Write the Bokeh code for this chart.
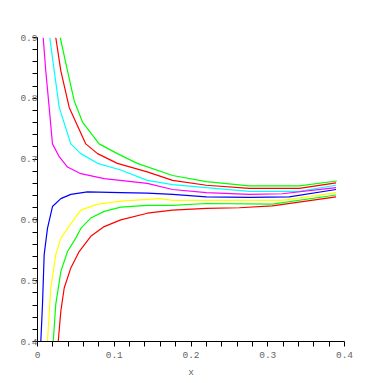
from bokeh.plotting import figure
from bokeh.models import FixedTicker, Range1d
from bokeh.embed import file_html
from bokeh.resources import INLINE

# ---- data ----
green_up_x = [0.0296, 0.0391, 0.0478, 0.0586, 0.0804, 0.104, 0.130, 0.176, 0.220, 0.276, 0.341, 0.390]
green_up_y = [0.900, 0.845, 0.796, 0.761, 0.725, 0.709, 0.693, 0.673, 0.663, 0.656, 0.656, 0.664]

red_up_x = [0.0238, 0.0304, 0.0413, 0.0629, 0.0782, 0.104, 0.143, 0.176, 0.220, 0.276, 0.341, 0.389]
red_up_y = [0.900, 0.845, 0.785, 0.725, 0.709, 0.693, 0.679, 0.665, 0.657, 0.652, 0.652, 0.661]

cyan_x = [0.0160, 0.0218, 0.0283, 0.0434, 0.0564, 0.0782, 0.1085, 0.143, 0.176, 0.220, 0.276, 0.341, 0.389]
cyan_y = [0.900, 0.845, 0.785, 0.725, 0.709, 0.693, 0.682, 0.665, 0.658, 0.653, 0.647, 0.647, 0.657]

magenta_x = [0.0074, 0.0108, 0.0152, 0.0195, 0.0283, 0.0391, 0.0564, 0.0869, 0.143, 0.176, 0.220, 0.276, 0.319, 0.389]
magenta_y = [0.900, 0.845, 0.785, 0.725, 0.704, 0.687, 0.676, 0.668, 0.660, 0.650, 0.645, 0.642, 0.643, 0.653]

blue_x = [0.0043, 0.0065, 0.0087, 0.0130, 0.0195, 0.0304, 0.0434, 0.0651, 0.1085, 0.143, 0.176, 0.220, 0.276, 0.328, 0.389]
blue_y = [0.400, 0.461, 0.543, 0.586, 0.622, 0.635, 0.642, 0.646, 0.645, 0.644, 0.642, 0.638, 0.637, 0.638, 0.650]

yellow_x = [0.0130, 0.0173, 0.0238, 0.0304, 0.0391, 0.0564, 0.0782, 0.1085, 0.159, 0.176, 0.276, 0.319, 0.389]
yellow_y = [0.400, 0.488, 0.543, 0.570, 0.586, 0.616, 0.626, 0.631, 0.635, 0.632, 0.632, 0.632, 0.645]

green_lo_x = [0.0205, 0.0238, 0.0304, 0.0391, 0.0499, 0.0564, 0.0694, 0.0869, 0.1085, 0.143, 0.176, 0.220, 0.306, 0.389]
green_lo_y = [0.400, 0.461, 0.515, 0.548, 0.570, 0.586, 0.603, 0.614, 0.621, 0.624, 0.624, 0.627, 0.626, 0.641]

red_lo_x = [0.0270, 0.0304, 0.0348, 0.0434, 0.0543, 0.0694, 0.0869, 0.1085, 0.143, 0.176, 0.220, 0.263, 0.306, 0.389]
red_lo_y = [0.400, 0.450, 0.488, 0.521, 0.548, 0.573, 0.589, 0.600, 0.611, 0.616, 0.619, 0.620, 0.623, 0.638]

x_ticks = [0, 0.1, 0.2, 0.3, 0.4]
x_minor = [0.02, 0.04, 0.06, 0.08, 0.12, 0.14, 0.16, 0.18, 0.22, 0.24, 0.26, 0.28, 0.32, 0.34, 0.36, 0.38]
y_ticks = [0.4, 0.5, 0.6, 0.7, 0.8, 0.9]
y_minor = [0.42, 0.44, 0.46, 0.48, 0.52, 0.54, 0.56, 0.58, 0.62, 0.64, 0.66, 0.68,
           0.72, 0.74, 0.76, 0.78, 0.82, 0.84, 0.86, 0.88]

series = [
    (green_up_x, green_up_y, "#00ff00"),
    (red_up_x, red_up_y, "#ff0000"),
    (cyan_x, cyan_y, "#00ffff"),
    (magenta_x, magenta_y, "#ff00ff"),
    (blue_x, blue_y, "#0000ff"),
    (yellow_x, yellow_y, "#ffff00"),
    (green_lo_x, green_lo_y, "#00ff00"),
    (red_lo_x, red_lo_y, "#ff0000"),
]

p = figure(width=374, height=380, output_backend="svg", toolbar_location=None,
           x_range=Range1d(0, 0.4), y_range=Range1d(0.4, 0.9),
           min_border_left=37, min_border_right=30, min_border_top=37, min_border_bottom=37)
p.outline_line_color = None
p.grid.visible = False
p.background_fill_color = "white"
p.border_fill_color = "white"

for xs, ys, c in series:
    p.line(xs, ys, line_color=c, line_width=1.2)

font = "Liberation Mono"
for ax in (p.xaxis[0], p.yaxis[0]):
    ax.axis_line_color = "black"
    ax.axis_line_width = 1
    ax.major_tick_line_color = "black"
    ax.minor_tick_line_color = "black"
    ax.major_tick_in = 0
    ax.major_tick_out = 5
    ax.minor_tick_in = 0
    ax.minor_tick_out = 5
    ax.major_label_text_font = font
    ax.major_label_text_font_size = "9.5px"
    ax.major_label_text_color = "#666666"
    ax.axis_label_text_font = font
    ax.axis_label_text_font_size = "9.5px"
    ax.axis_label_text_color = "#666666"
    ax.axis_label_text_font_style = "normal"

p.xaxis[0].ticker = FixedTicker(ticks=x_ticks, minor_ticks=x_minor)
p.yaxis[0].ticker = FixedTicker(ticks=y_ticks, minor_ticks=y_minor)
p.xaxis[0].major_label_overrides = {0: "0"}
p.xaxis[0].major_label_standoff = 5
p.yaxis[0].major_label_standoff = -5
p.xaxis[0].axis_label = "x"
p.xaxis[0].axis_label_standoff = 6

open("out.html", "w").write(file_html(p, INLINE))
